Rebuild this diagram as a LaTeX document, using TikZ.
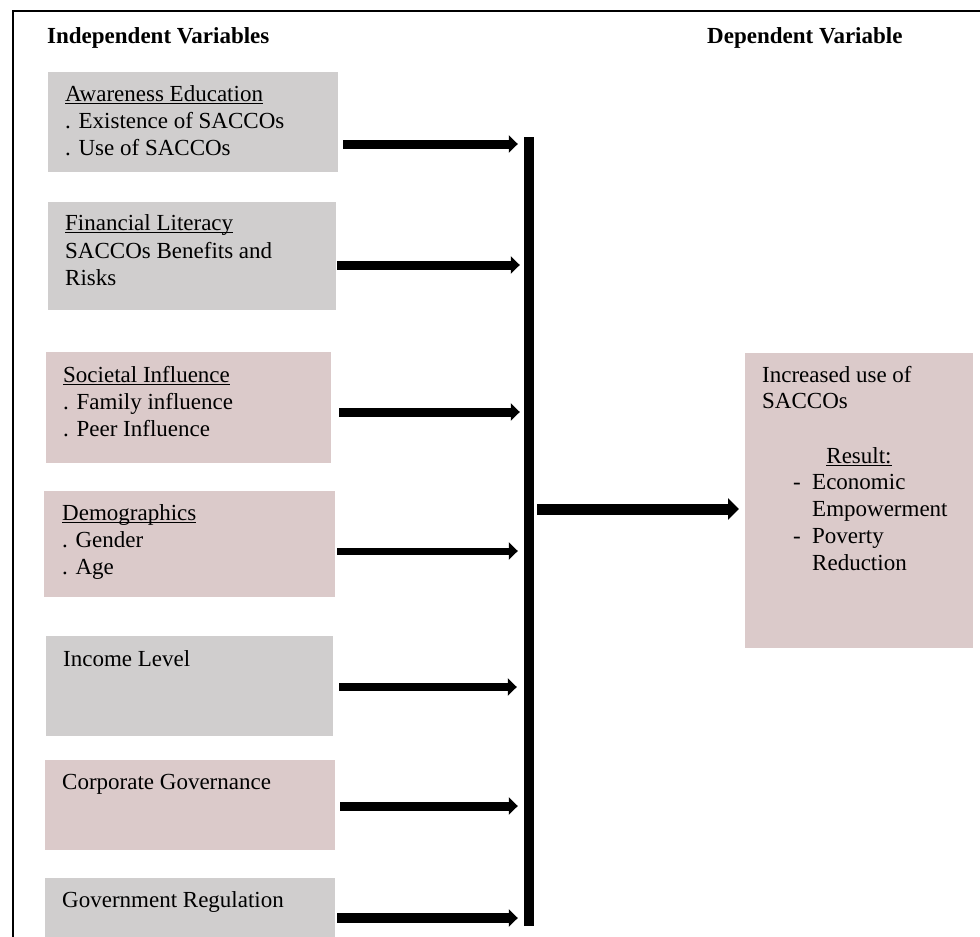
\documentclass[tikz,border=0pt]{standalone}
\usepackage{fontspec}
\setmainfont{Liberation Serif}
\usetikzlibrary{arrows.meta}
\definecolor{boxgray}{HTML}{D0CECE}
\definecolor{boxpink}{HTML}{DBCACA}
\newcommand\myul[1]{\setbox0\hbox{#1}\rlap{\rule[-2.6pt]{\wd0}{1.1pt}}\box0}
\tikzset{
  txt/.style={anchor=base west, inner sep=0pt, font=\fontsize{23}{27}\selectfont},
  hd/.style={anchor=base west, inner sep=0pt, font=\fontsize{23}{27}\selectfont\bfseries},
  vbox/.style={anchor=north west, inner sep=0pt, draw=none},
  arr/.style={line width=9pt, -{Triangle[length=9pt,width=17pt]}},
  bigarr/.style={line width=11pt, -{Triangle[length=11pt,width=21pt]}}
}
\begin{document}
\begin{tikzpicture}[x=1pt,y=-1pt]
\useasboundingbox (0,0) rectangle (980,937);
% frame
\draw[line width=2pt] (13,937) -- (13,11) -- (980,11);
% headings
\node[hd] (hi) at (47,43) {Independent Variables};
\node[hd] (hdv) at (707,43) {Dependent Variable};
% boxes
\node[vbox, fill=boxgray, minimum width=290pt, minimum height=100pt] (b1) at (48,72) {};
\node[vbox, fill=boxgray, minimum width=288pt, minimum height=108pt] (b2) at (48,202) {};
\node[vbox, fill=boxpink, minimum width=285pt, minimum height=111pt] (b3) at (46,352) {};
\node[vbox, fill=boxpink, minimum width=291pt, minimum height=106pt] (b4) at (44,491) {};
\node[vbox, fill=boxgray, minimum width=287pt, minimum height=100pt] (b5) at (46,636) {};
\node[vbox, fill=boxpink, minimum width=290pt, minimum height=90pt] (b6) at (45,760) {};
\node[vbox, fill=boxgray, minimum width=290pt, minimum height=62pt] (b7) at (45,878) {};
\node[vbox, fill=boxpink, minimum width=228pt, minimum height=295pt] (dv) at (745,352.5) {};
% box texts
\node[txt] (t1a) at (65,101) {\myul{Awareness Education}};
\node[txt] (t1b) at (65,128) {. Existence of SACCOs};
\node[txt] (t1c) at (65,155) {. Use of SACCOs};
\node[txt] (t2a) at (65,230) {\myul{Financial Literacy}};
\node[txt] (t2b) at (65,258) {SACCOs Benefits and};
\node[txt] (t2c) at (65,285) {Risks};
\node[txt] (t3a) at (63,382) {\myul{Societal Influence}};
\node[txt] (t3b) at (63,409) {. Family influence};
\node[txt] (t3c) at (63,436) {. Peer Influence};
\node[txt] (t4a) at (62,520) {\myul{Demographics}};
\node[txt] (t4b) at (62,547) {. Gender};
\node[txt] (t4c) at (62,574) {. Age};
\node[txt] (t5) at (63,666) {Income Level};
\node[txt] (t6) at (62,789) {Corporate Governance};
\node[txt] (t7) at (62,907) {Government Regulation};
% dependent text
\node[txt] (d1) at (762,382) {Increased use of};
\node[txt] (d2) at (762,408) {SACCOs};
\node[txt, anchor=base] (d3) at (859,463) {\myul{Result:}};
\node[txt] (d4a) at (793,489) {-};
\node[txt] (d4) at (812,489) {Economic};
\node[txt] (d5) at (812,516) {Empowerment};
\node[txt] (d6a) at (793,543) {-};
\node[txt] (d6) at (812,543) {Poverty};
\node[txt] (d7) at (812,570) {Reduction};
% bar
\node[fill=black, inner sep=0pt, minimum width=10pt, minimum height=789pt] (bar) at (529,531.5) {};
% arrow starts
\coordinate (s1) at (343,144);
\coordinate (s2) at (337,265);
\coordinate (s3) at (339,412);
\coordinate (s4) at (337,551);
\coordinate (s5) at (339,687);
\coordinate (s6) at (340,806);
\coordinate (s7) at (337,918);
\draw[arr, shorten >=6pt] (s1) -- (s1 -| bar.west);
\draw[arr, shorten >=4pt] (s2) -- (s2 -| bar.west);
\draw[arr, shorten >=4pt] (s3) -- (s3 -| bar.west);
\draw[arr, line width=7pt, shorten >=6pt] (s4) -- (s4 -| bar.west);
\draw[arr, line width=8pt, shorten >=7pt] (s5) -- (s5 -| bar.west);
\draw[arr, shorten >=6pt] (s6) -- (s6 -| bar.west);
\draw[arr, line width=10pt, shorten >=6pt] (s7) -- (s7 -| bar.west);
% big arrow
\coordinate (bs) at (537,509);
\draw[bigarr, shorten >=6pt] (bs) -- (bs -| dv.west);
\end{tikzpicture}
\end{document}
